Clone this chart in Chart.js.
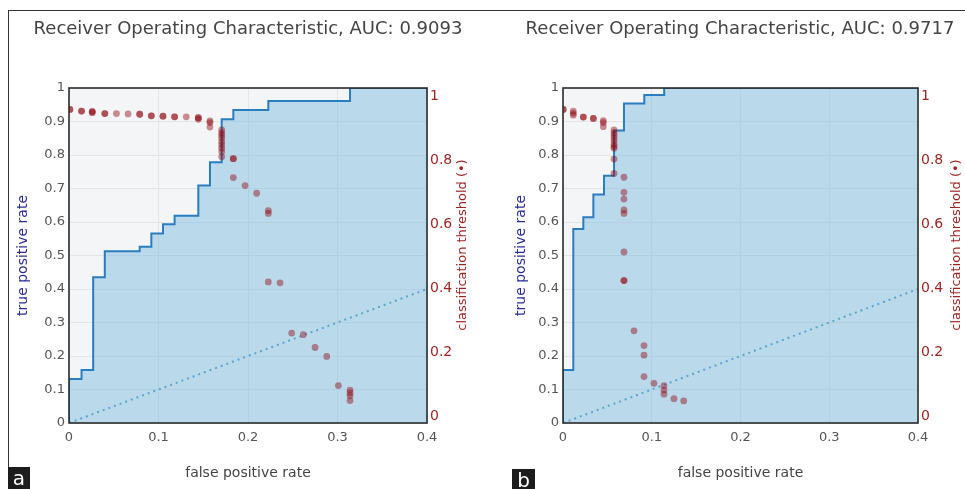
<!DOCTYPE html>
<html>
<head>
<meta charset="utf-8">
<script src="https://cdn.jsdelivr.net/npm/chart.js@4.4.0/dist/chart.umd.min.js"></script>
<style>
  body { margin: 0; background: #fff; }
  #wrap { position: relative; width: 965px; height: 489px; overflow: hidden; font-family: "DejaVu Sans", Verdana, sans-serif; }
  .frame { position: absolute; left: 8px; top: 10px; right: -2px; bottom: -2px; border-top: 1px solid #333; border-left: 1px solid #333; }
  canvas { position: absolute; top: 0; }
  .title { position: absolute; top: 17px; width: 500px; text-align: center; font-size: 18px; color: #444; white-space: nowrap; }
  .tag { position: absolute; background: #1c1c1c; color: #fff; font-size: 20px; line-height: 22px; text-align: center; }
</style>
</head>
<body>
<div id="wrap">
  <div class="frame"></div>
  <canvas id="rocA" width="496" height="489" style="left:0px"></canvas>
  <canvas id="rocB" width="469" height="489" style="left:496px"></canvas>
  <div class="title" id="titleA" style="left:-2px"></div>
  <div class="title" id="titleB" style="left:490px"></div>
  <div class="tag" id="tagA" style="left:8px; top:467px; width:22px; height:22px;"></div>
  <div class="tag" id="tagB" style="left:512px; top:469px; width:23px; height:20px;"></div>
</div>
<script>
// 軸の目盛り
const rateTicks = [0, 0.1, 0.2, 0.3, 0.4, 0.5, 0.6, 0.7, 0.8, 0.9, 1];
const fprTicks = [0, 0.1, 0.2, 0.3, 0.4];
const thresholdTicks = [0, 0.2, 0.4, 0.6, 0.8, 1];
const panelTitles = ['Receiver Operating Characteristic, AUC: 0.9093', 'Receiver Operating Characteristic, AUC: 0.9717'];
const panelTags = ['a', 'b'];
const chanceLine = [0, 0.4];

// panel a : ROC
const rocFprA = [0, 0, 0.014, 0.027, 0.040, 0.079, 0.092, 0.105, 0.118, 0.1445, 0.1575, 0.1706, 0.1836, 0.2227, 0.314, 0.4];
const rocTprA = [0, 0.131, 0.158, 0.435, 0.513, 0.526, 0.566, 0.593, 0.619, 0.709, 0.778, 0.907, 0.934, 0.961, 1, 1];
// panel a : threshold (重なった点はそのまま)
const thrFprA = [0.001, 0.001, 0.014, 0.014, 0.026, 0.026, 0.026, 0.040, 0.040, 0.053, 0.066, 0.079, 0.079,
  0.092, 0.092, 0.105, 0.105, 0.118, 0.118, 0.131, 0.1445, 0.1445, 0.1445, 0.1575, 0.1575, 0.1575,
  0.1706, 0.1706, 0.1706, 0.1706, 0.1706, 0.1706, 0.1706, 0.1706, 0.1706, 0.1836, 0.1836, 0.1836,
  0.1967, 0.2097, 0.2227, 0.2227, 0.2227, 0.2358, 0.2488, 0.2618, 0.2749, 0.288, 0.301, 0.314, 0.314, 0.314, 0.314];
const thrA = [0.958, 0.958, 0.953, 0.953, 0.952, 0.950, 0.948, 0.945, 0.945, 0.945, 0.944, 0.943, 0.943,
  0.938, 0.938, 0.937, 0.937, 0.935, 0.935, 0.935, 0.932, 0.932, 0.927, 0.922, 0.917, 0.903,
  0.894, 0.885, 0.877, 0.868, 0.857, 0.847, 0.837, 0.826, 0.810, 0.804, 0.804, 0.745,
  0.720, 0.696, 0.642, 0.633, 0.419, 0.416, 0.259, 0.254, 0.214, 0.186, 0.095, 0.081, 0.072, 0.063, 0.048];

// panel b : ROC
const rocFprB = [0, 0, 0.0116, 0.0229, 0.0342, 0.0462, 0.0575, 0.0687, 0.0916, 0.114, 0.4];
const rocTprB = [0, 0.158, 0.579, 0.614, 0.682, 0.738, 0.873, 0.954, 0.979, 1, 1];
// panel b : threshold
const thrFprB = [0.0003, 0.0003, 0.0116, 0.0116, 0.0116, 0.0229, 0.0229, 0.0342, 0.0342, 0.0454, 0.0454, 0.0454,
  0.0575, 0.0575, 0.0575, 0.0575, 0.0575, 0.0575, 0.0575, 0.0575, 0.0575, 0.0575,
  0.0687, 0.0687, 0.0687, 0.0687, 0.0687, 0.0687, 0.0687, 0.0687,
  0.080, 0.0913, 0.0913, 0.0913, 0.1025, 0.1138, 0.1138, 0.1138, 0.125, 0.136];
const thrB = [0.958, 0.958, 0.953, 0.946, 0.940, 0.934, 0.934, 0.930, 0.930, 0.923, 0.917, 0.904,
  0.894, 0.885, 0.877, 0.868, 0.859, 0.849, 0.842, 0.837, 0.803, 0.758,
  0.746, 0.699, 0.678, 0.644, 0.633, 0.5125, 0.423, 0.423,
  0.266, 0.220, 0.190, 0.123, 0.102, 0.095, 0.081, 0.068, 0.054, 0.047];

const FONT = '"DejaVu Sans", Verdana, sans-serif';
const RED = '#9e2424';

// 目盛りラベル "1" "0.1" の形式
const fmt = (v) => String(Number(v.toFixed(2)));

// plot背景と枠
const plotFrame = {
  id: 'plotFrame',
  beforeDraw(chart) {
    const a = chart.chartArea, c = chart.ctx;
    c.save();
    c.fillStyle = '#f3f5f6';
    c.fillRect(a.left, a.top, a.right - a.left, a.bottom - a.top);
    c.restore();
  },
  afterDatasetsDraw(chart) {
    const a = chart.chartArea, c = chart.ctx;
    c.save();
    c.strokeStyle = '#2b2b2b';
    c.lineWidth = 1.6;
    c.strokeRect(a.left, a.top, a.right - a.left, a.bottom - a.top);
    c.restore();
  },
  afterDraw(chart, args, opts) {
    // 右軸タイトル (下から上へ)
    const c = chart.ctx;
    c.save();
    c.translate(opts.x, opts.y);
    c.rotate(-Math.PI / 2);
    c.fillStyle = RED;
    c.font = '13px ' + FONT;
    c.textAlign = 'center';
    c.textBaseline = 'middle';
    c.fillText('classification threshold (\u2022)', 0, 0);
    c.restore();
  }
};

function toPoints(xs, ys) {
  return xs.map((x, i) => ({ x: x, y: ys[i] }));
}

function makePanel(id, p) {
  const ctx = document.getElementById(id);
  return new Chart(ctx, {
    type: 'scatter',
    data: {
      datasets: [
        {
          label: 'threshold',
          data: toPoints(p.thrFpr, p.thr),
          yAxisID: 'y2',
          pointRadius: 3.4,
          pointBorderWidth: 0,
          pointBackgroundColor: 'rgba(145,8,18,0.45)',
        },
        {
          label: 'chance',
          type: 'line',
          data: toPoints(chanceLine, chanceLine),
          yAxisID: 'y',
          borderColor: 'rgba(80,160,205,0.9)',
          borderWidth: 2,
          borderDash: [2, 4],
          pointRadius: 0,
          fill: false,
        },
        {
          label: 'roc',
          type: 'line',
          data: toPoints(p.rocFpr, p.rocTpr),
          yAxisID: 'y',
          stepped: 'before',
          borderColor: '#2a7dbf',
          borderWidth: 2,
          pointRadius: 0,
          fill: 'origin',
          backgroundColor: 'rgba(100,175,220,0.4)',
        },
      ],
    },
    options: {
      responsive: false,
      animation: false,
      layout: { padding: { top: 88, left: 0, right: 0, bottom: 0 } },
      plugins: {
        legend: { display: false },
        tooltip: { enabled: false },
        plotFrame: { x: p.rightTitleX, y: 245 },
      },
      scales: {
        x: {
          type: 'linear',
          min: 0,
          max: 0.4,
          afterBuildTicks: (s) => { s.ticks = fprTicks.map((v) => ({ value: v })); },
          afterFit: (s) => { s.height = 66; },
          grid: { color: '#e3e6e9', drawTicks: false },
          border: { display: false },
          ticks: { color: '#555', font: { family: FONT, size: 13 }, padding: 7, maxRotation: 0, callback: fmt },
          title: { display: true, text: 'false positive rate', color: '#444', font: { family: FONT, size: 14 }, padding: { top: 0, bottom: 7.6 } },
        },
        y: {
          type: 'linear',
          position: 'left',
          min: 0,
          max: 1,
          afterBuildTicks: (s) => { s.ticks = rateTicks.map((v) => ({ value: v })); },
          afterFit: (s) => { s.width = p.leftW; },
          grid: { color: '#e3e6e9', drawTicks: false },
          border: { display: false },
          ticks: { color: '#555', font: { family: FONT, size: 13 }, padding: 4, callback: fmt },
          title: { display: true, text: 'true positive rate', color: '#2b2b98', font: { family: FONT, size: 14 }, padding: { top: p.leftTitlePad, bottom: 0 } },
        },
        y2: {
          type: 'linear',
          position: 'right',
          min: -0.022,
          max: 1.025,
          afterBuildTicks: (s) => { s.ticks = thresholdTicks.map((v) => ({ value: v })); },
          afterFit: (s) => { s.width = p.rightW; },
          grid: { display: false, drawTicks: false },
          border: { display: false },
          ticks: { color: RED, font: { family: FONT, size: 14 }, padding: 3, callback: fmt },
        },
      },
    },
    plugins: [plotFrame],
  });
}

document.getElementById('titleA').textContent = panelTitles[0];
document.getElementById('titleB').textContent = panelTitles[1];
document.getElementById('tagA').textContent = panelTags[0];
document.getElementById('tagB').textContent = panelTags[1];

makePanel('rocA', {
  rocFpr: rocFprA, rocTpr: rocTprA, thrFpr: thrFprA, thr: thrA,
  leftW: 69, rightW: 69, leftTitlePad: 14.6, rightTitleX: 463,
});
makePanel('rocB', {
  rocFpr: rocFprB, rocTpr: rocTprB, thrFpr: thrFprB, thr: thrB,
  leftW: 67, rightW: 47, leftTitlePad: 16.6, rightTitleX: 461,
});
</script>
</body>
</html>
